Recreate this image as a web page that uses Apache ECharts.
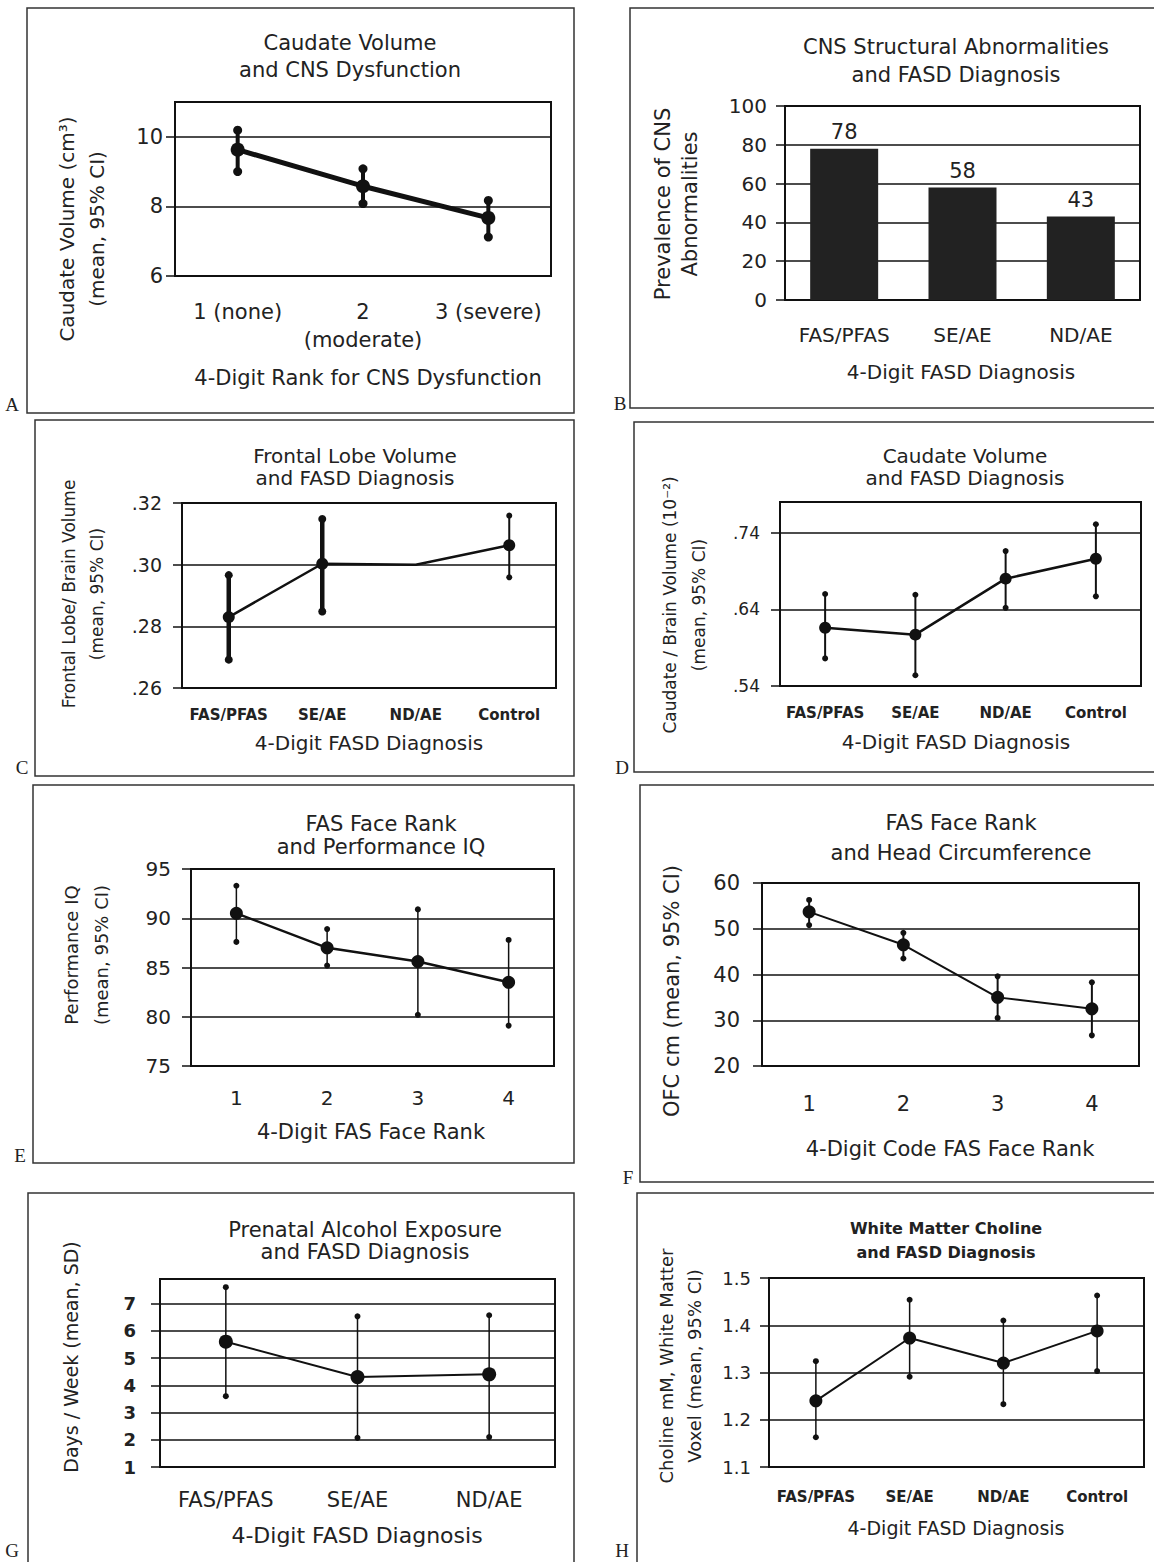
<!DOCTYPE html>
<html><head><meta charset="utf-8">
<script src="https://cdn.jsdelivr.net/npm/echarts@6/dist/echarts.min.js"></script>
<style>html,body{margin:0;padding:0;background:#fff}#chart{width:1154px;height:1562px}</style>
</head><body><div id="chart"></div>
<script>
// ---------- DATA ----------
// A: Caudate Volume and CNS Dysfunction
const catsA = ['1 (none)', '2\n(moderate)', '3 (severe)'];
const meanA = [9.63, 8.58, 7.67];
const lowA  = [9.00, 8.08, 7.12];
const highA = [10.19, 9.08, 8.17];
const yTicksA = [6, 11, 2];          // min, max, interval

// B: CNS Structural Abnormalities and FASD Diagnosis
const catsB = ['FAS/PFAS', 'SE/AE', 'ND/AE'];
const valB  = [78, 58, 43];
const yTicksB = [0, 100, 20];

// C: Frontal Lobe Volume and FASD Diagnosis
const catsC = ['FAS/PFAS', 'SE/AE', 'ND/AE', 'Control'];
const meanC = [0.283, 0.3003, 0.300, 0.3063];
const lowC  = [0.2692, 0.2848, null, 0.2959];
const highC = [0.2966, 0.3148, null, 0.3159];
const yTicksC = [0.26, 0.32, 0.02];

// D: Caudate Volume and FASD Diagnosis
const catsD = ['FAS/PFAS', 'SE/AE', 'ND/AE', 'Control'];
const meanD = [0.616, 0.607, 0.680, 0.706];
const lowD  = [0.576, 0.554, 0.642, 0.657];
const highD = [0.660, 0.659, 0.716, 0.751];
const yTicksD = [0.54, 0.78, 0.10];

// E: FAS Face Rank and Performance IQ
const catsE = ['1', '2', '3', '4'];
const meanE = [90.5, 87.0, 85.6, 83.5];
const lowE  = [87.6, 85.2, 80.2, 79.1];
const highE = [93.3, 88.9, 90.9, 87.8];
const yTicksE = [75, 95, 5];

// F: FAS Face Rank and Head Circumference
const catsF = ['1', '2', '3', '4'];
const meanF = [53.7, 46.5, 35.0, 32.5];
const lowF  = [50.8, 43.5, 30.5, 26.7];
const highF = [56.3, 49.1, 39.6, 38.3];
const yTicksF = [20, 60, 10];

// G: Prenatal Alcohol Exposure and FASD Diagnosis
const catsG = ['FAS/PFAS', 'SE/AE', 'ND/AE'];
const meanG = [5.6, 4.3, 4.4];
const lowG  = [3.6, 2.07, 2.1];
const highG = [7.6, 6.53, 6.57];
const yTicksG = [1, 7.9, 1];

// H: White Matter Choline and FASD Diagnosis
const catsH = ['FAS/PFAS', 'SE/AE', 'ND/AE', 'Control'];
const meanH = [1.24, 1.373, 1.32, 1.388];
const lowH  = [1.163, 1.291, 1.233, 1.303];
const highH = [1.324, 1.454, 1.41, 1.463];
const yTicksH = [1.1, 1.5, 0.1];

// ---------- BUILD ----------
const TXT = '#222';
const LIB = '"Liberation Sans", Arial, sans-serif';
const DJV = '"DejaVu Sans", sans-serif';
const SER = '"Liberation Serif", "DejaVu Serif", serif';

const grids = [], xAxes = [], yAxes = [], series = [], graphics = [];

function dotFmt(d){ return v => { const s = (+v).toFixed(d); return s.startsWith('0') ? s.slice(1) : s; }; }

function addAxes(p) {
  const i = grids.length;
  grids.push({left: p.grid[0], top: p.grid[1], width: p.grid[2], height: p.grid[3],
    show: true, borderColor: '#111', borderWidth: 2, backgroundColor: 'transparent'});
  xAxes.push({type: 'category', gridIndex: i, data: p.cats, boundaryGap: true,
    axisLine: {show: false}, axisTick: {show: false}, splitLine: {show: false},
    axisLabel: {interval: 0, margin: p.xl.margin, color: TXT, fontSize: p.xl.size,
      fontFamily: p.xl.family, fontWeight: p.xl.weight || 'normal', lineHeight: p.xl.lh || p.xl.size + 4}});
  yAxes.push({type: 'value', gridIndex: i, min: p.yt[0], max: p.yt[1], interval: p.yt[2],
    axisLine: {show: false},
    axisTick: {show: true, length: 9, lineStyle: {color: '#111', width: 1.5}},
    splitLine: {show: true, lineStyle: {color: '#111', width: 1.6}},
    axisLabel: {margin: p.yl.margin, color: TXT, fontSize: p.yl.size, fontFamily: p.yl.family,
      fontWeight: p.yl.weight || 'normal', showMaxLabel: !p.yl.hideMax, showMinLabel: true,
      formatter: p.yl.fmt || (v => String(+(+v).toFixed(4)))}});
  return i;
}

function addErrPanel(p) {
  const i = addAxes(p);
  const ebData = [];
  p.low.forEach((lo, k) => { if (lo != null) ebData.push([k, lo, p.high[k], k]); });
  series.push({type: 'custom', xAxisIndex: i, yAxisIndex: i, data: ebData, silent: true,
    encode: {x: 0, y: [1, 2]}, z: 2,
    renderItem: (params, api) => {
      const k = api.value(3);
      const lo = api.coord([api.value(0), api.value(1)]);
      const hi = api.coord([api.value(0), api.value(2)]);
      const w = Array.isArray(p.ebw) ? p.ebw[k] : p.ebw;
      const r = Array.isArray(p.er) ? p.er[k] : p.er;
      return {type: 'group', children: [
        {type: 'line', shape: {x1: lo[0], y1: lo[1], x2: hi[0], y2: hi[1]}, style: {stroke: '#111', lineWidth: w}},
        {type: 'circle', shape: {cx: lo[0], cy: lo[1], r: r}, style: {fill: '#111'}},
        {type: 'circle', shape: {cx: hi[0], cy: hi[1], r: r}, style: {fill: '#111'}}
      ]};
    }});
  series.push({type: 'line', xAxisIndex: i, yAxisIndex: i, silent: true, z: 3,
    data: p.mean.map((v, k) => p.low[k] == null ? {value: v, symbol: 'none'} : v),
    symbol: 'circle', symbolSize: p.ms, showAllSymbol: true,
    lineStyle: {color: '#111', width: p.lw}, itemStyle: {color: '#111'}});
}

function txt(x, y, text, font, size, opt) {
  opt = opt || {};
  graphics.push({type: 'text', x: x, y: y, rotation: opt.rot ? Math.PI / 2 : 0, silent: true,
    style: {text: text, fill: TXT, fontSize: size, fontFamily: font, fontWeight: opt.weight || 'normal',
      align: 'center', verticalAlign: 'middle', lineHeight: opt.lh || size + 4}});
}
function box(x, y, w, h) {
  graphics.push({type: 'rect', silent: true, shape: {x: x, y: y, width: w, height: h},
    style: {fill: 'none', stroke: '#333', lineWidth: 1.5}});
}
function letter(x, y, t) {
  graphics.push({type: 'text', x: x, y: y, silent: true,
    style: {text: t, fill: '#222', fontSize: 19, fontFamily: SER, align: 'center', verticalAlign: 'middle'}});
}

// Panel A
addErrPanel({grid: [175, 102, 376, 174], cats: catsA, mean: meanA, low: lowA, high: highA, yt: yTicksA,
  xl: {margin: 22, size: 21, family: DJV, lh: 28}, yl: {margin: 12, size: 21, family: DJV, hideMax: true},
  lw: 5, ms: 14, ebw: 4, er: 4.5});
box(27, 8, 547, 405); letter(12, 404, 'A');
txt(350, 56, 'Caudate Volume\nand CNS Dysfunction', DJV, 21, {lh: 27});
txt(82, 229, 'Caudate Volume (cm³)\n(mean, 95% CI)', DJV, 20, {rot: true, lh: 30});
txt(368, 378, '4-Digit Rank for CNS Dysfunction', DJV, 21);

// Panel B (bars)
{
  const i = addAxes({grid: [785, 106, 355, 194], cats: catsB, yt: yTicksB,
    xl: {margin: 23, size: 20, family: DJV}, yl: {margin: 18, size: 20, family: DJV}});
  series.push({type: 'bar', xAxisIndex: i, yAxisIndex: i, data: valB, barWidth: 68, silent: true,
    itemStyle: {color: '#222'},
    label: {show: true, position: 'top', distance: 6, fontSize: 21, fontFamily: DJV, color: TXT}});
}
box(630, 8, 560, 400); letter(620, 403, 'B');
txt(956, 61, 'CNS Structural Abnormalities\nand FASD Diagnosis', DJV, 21, {lh: 28});
txt(676, 204, 'Prevalence of CNS\nAbnormalities', DJV, 21, {rot: true, lh: 27});
txt(961, 372, '4-Digit FASD Diagnosis', DJV, 20);

// Panel C
addErrPanel({grid: [182, 503, 374, 185], cats: catsC, mean: meanC, low: lowC, high: highC, yt: yTicksC,
  xl: {margin: 17, size: 15, family: DJV, weight: 'bold'}, yl: {margin: 20, size: 19, family: DJV, fmt: dotFmt(2)},
  lw: 2.5, ms: 12, ebw: [4.5, 4.5, 0, 2], er: [4, 4, 0, 3]});
box(35, 420, 539, 356); letter(22, 767, 'C');
txt(355, 467, 'Frontal Lobe Volume\nand FASD Diagnosis', DJV, 20, {lh: 22});
txt(83, 594, 'Frontal Lobe/ Brain Volume\n(mean, 95% CI)', DJV, 17, {rot: true, lh: 28});
txt(369, 743, '4-Digit FASD Diagnosis', DJV, 20);

// Panel D
addErrPanel({grid: [780, 502, 361, 184], cats: catsD, mean: meanD, low: lowD, high: highD, yt: yTicksD,
  xl: {margin: 17, size: 15, family: DJV, weight: 'bold'}, yl: {margin: 20, size: 17, family: DJV, fmt: dotFmt(2), hideMax: true},
  lw: 2.5, ms: 12, ebw: 2, er: 3});
box(634, 422, 560, 350); letter(622, 767, 'D');
txt(965, 467, 'Caudate Volume\nand FASD Diagnosis', DJV, 20, {lh: 22});
txt(684, 605, 'Caudate / Brain Volume (10⁻²)\n(mean, 95% CI)', DJV, 17, {rot: true, lh: 29});
txt(956, 742, '4-Digit FASD Diagnosis', DJV, 20);

// Panel E
addErrPanel({grid: [191, 869, 363, 197], cats: catsE, mean: meanE, low: lowE, high: highE, yt: yTicksE,
  xl: {margin: 20, size: 20, family: DJV}, yl: {margin: 20, size: 20, family: DJV},
  lw: 2.5, ms: 13, ebw: 1.5, er: 3});
box(33, 785, 541, 378); letter(20, 1155, 'E');
txt(381, 835, 'FAS Face Rank\nand Performance IQ', DJV, 21, {lh: 23});
txt(86, 955, 'Performance IQ\n(mean, 95% CI)', DJV, 18, {rot: true, lh: 30});
txt(371, 1132, '4-Digit FAS Face Rank', DJV, 21);

// Panel F
addErrPanel({grid: [762, 883, 377, 183], cats: catsF, mean: meanF, low: lowF, high: highF, yt: yTicksF,
  xl: {margin: 25, size: 21, family: DJV}, yl: {margin: 22, size: 21, family: DJV},
  lw: 2, ms: 13, ebw: 2, er: 3});
box(640, 785, 560, 397); letter(628, 1177, 'F');
txt(961, 838, 'FAS Face Rank\nand Head Circumference', DJV, 21, {lh: 30});
txt(672, 991, 'OFC cm (mean, 95% CI)', DJV, 21, {rot: true});
txt(950, 1149, '4-Digit Code FAS Face Rank', DJV, 21);

// Panel G
addErrPanel({grid: [160, 1279, 395, 188], cats: catsG, mean: meanG, low: lowG, high: highG, yt: yTicksG,
  xl: {margin: 20, size: 21, family: DJV}, yl: {margin: 24, size: 18, family: DJV, weight: 'bold', hideMax: true},
  lw: 2, ms: 14, ebw: 1.5, er: 3});
box(28, 1193, 546, 400); letter(12, 1550, 'G');
txt(365, 1241, 'Prenatal Alcohol Exposure\nand FASD Diagnosis', DJV, 21, {lh: 22});
txt(71, 1357, 'Days / Week (mean, SD)', DJV, 19, {rot: true});
txt(357, 1535, '4-Digit FASD Diagnosis', DJV, 22);

// Panel H
addErrPanel({grid: [769, 1278, 375, 189], cats: catsH, mean: meanH, low: lowH, high: highH, yt: yTicksH,
  xl: {margin: 20, size: 15, family: DJV, weight: 'bold'}, yl: {margin: 18, size: 18, family: DJV, fmt: v => (+v).toFixed(1)},
  lw: 2, ms: 13, ebw: 1.5, er: 3});
box(637, 1193, 560, 400); letter(622, 1550, 'H');
txt(946, 1240, 'White Matter Choline\nand FASD Diagnosis', DJV, 16, {weight: 'bold', lh: 24});
txt(680, 1366, 'Choline mM, White Matter\nVoxel (mean, 95% CI)', DJV, 18, {rot: true, lh: 28});
txt(956, 1528, '4-Digit FASD Diagnosis', DJV, 19);

const chart = echarts.init(document.getElementById('chart'), null, {renderer: 'svg', width: 1154, height: 1562});
chart.setOption({
  animation: false,
  backgroundColor: '#fff',
  grid: grids, xAxis: xAxes, yAxis: yAxes, series: series,
  graphic: {elements: graphics}
});
</script>
</body></html>
